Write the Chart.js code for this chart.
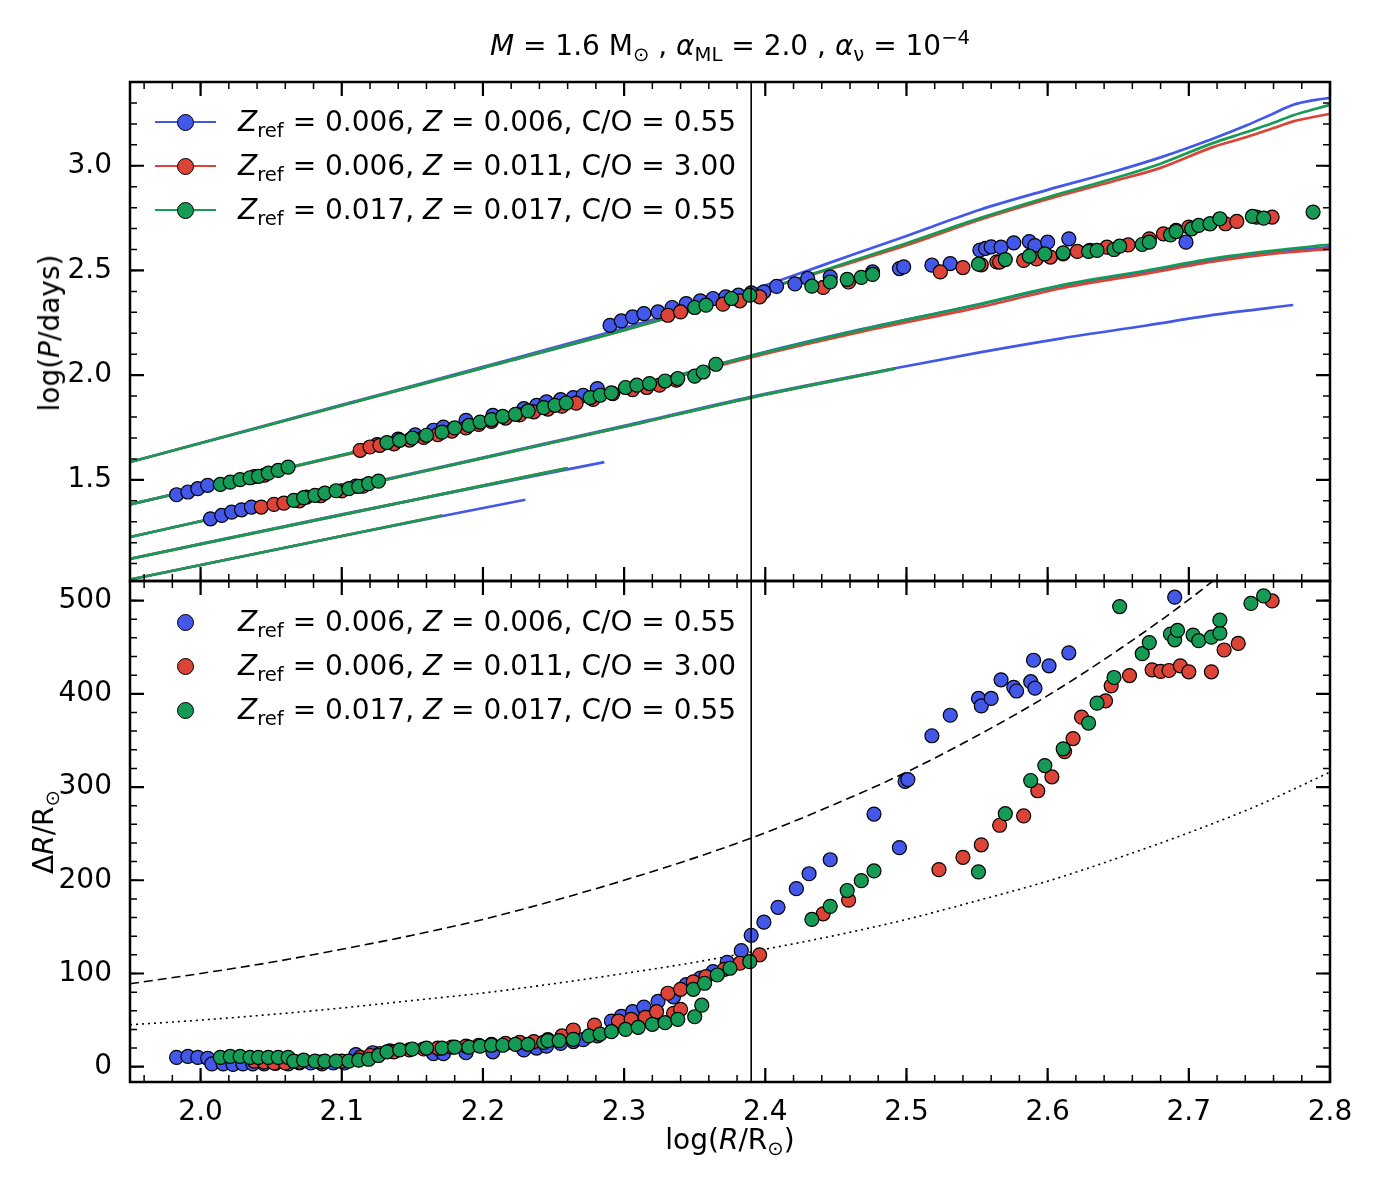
<!DOCTYPE html>
<html>
<head>
<meta charset="utf-8">
<script src="https://cdn.jsdelivr.net/npm/chart.js@4.4.0/dist/chart.umd.min.js"></script>
<style>
  body { margin: 0; background: #fff; }
  #wrap { position: relative; width: 1382px; height: 1187px; font-family: 'DejaVu Sans', sans-serif; color: #000; }
  canvas { position: absolute; left: 0; }
  .txt { position: absolute; font-size: 28px; line-height: 28px; white-space: nowrap; }
  .txt sub { font-size: 0.7em; vertical-align: -0.3em; line-height: 0; }
  .txt sup { font-size: 0.7em; vertical-align: 0.55em; line-height: 0; }
  .ln { position: absolute; height: 2.8px; width: 61px; }
  .mk { position: absolute; width: 17px; height: 17px; border-radius: 50%; border: 1.3px solid #000; box-sizing: border-box; }
  .rot { transform: translate(-50%, -50%) rotate(-90deg); }
</style>
</head>
<body>
<div id="wrap">
  <canvas id="top" width="1382" height="600" style="top:0"></canvas>
  <canvas id="bot" width="1382" height="627" style="top:560px"></canvas>
</div>
<script>
// ---- axis ranges and ticks
const X_MIN = 1.95, X_MAX = 2.8;
const TOP_MIN = 1.017, TOP_MAX = 3.40;
const BOT_MIN = -16.4, BOT_MAX = 521;
const xTicks = [2.0, 2.1, 2.2, 2.3, 2.4, 2.5, 2.6, 2.7, 2.8];
const topYTicks = [1.5, 2.0, 2.5, 3.0];
const botYTicks = [0, 100, 200, 300, 400, 500];
const V_LINE = 2.39;

const blue = '#4358e8', red = '#db4437', green = '#169b56';

// ---- top panel: model period lines log(P) vs log(R)
const l1X = [1.95, 2.1, 2.2, 2.3, 2.39, 2.45, 2.5, 2.552, 2.6, 2.646, 2.68, 2.717, 2.741, 2.76, 2.774, 2.79, 2.8];
const l1Blue = [1.585, 1.858, 2.040, 2.225, 2.406, 2.547, 2.665, 2.790, 2.885, 2.970, 3.040, 3.129, 3.193, 3.250, 3.291, 3.315, 3.324];
const l1Green = [1.585, 1.855, 2.035, 2.215, 2.390, 2.520, 2.630, 2.750, 2.850, 2.938, 3.010, 3.108, 3.161, 3.205, 3.241, 3.272, 3.291];
const l1Red = [1.585, 1.855, 2.035, 2.215, 2.390, 2.515, 2.620, 2.742, 2.840, 2.925, 2.990, 3.089, 3.137, 3.180, 3.212, 3.235, 3.248];

const l2X = [1.95, 2.1, 2.2, 2.3, 2.39, 2.47, 2.552, 2.61, 2.67, 2.72, 2.76, 2.8];
const l2Blue = [1.383, 1.618, 1.776, 1.932, 2.094, 2.222, 2.338, 2.426, 2.495, 2.553, 2.587, 2.612];
const l2Green = [1.383, 1.618, 1.775, 1.931, 2.092, 2.220, 2.340, 2.430, 2.500, 2.560, 2.595, 2.624];
const l2Red = [1.383, 1.615, 1.770, 1.925, 2.085, 2.210, 2.325, 2.415, 2.485, 2.545, 2.580, 2.603];

const l3BlueX = [1.95, 2.1, 2.2, 2.304, 2.39, 2.492, 2.552, 2.61, 2.67, 2.72, 2.774];
const l3Blue = [1.227, 1.455, 1.607, 1.764, 1.897, 2.033, 2.109, 2.176, 2.237, 2.290, 2.335];
const l3GreenX = [1.95, 2.1, 2.2, 2.304, 2.39, 2.492];
const l3Green = [1.227, 1.453, 1.604, 1.760, 1.893, 2.031];

const l4BlueX = [1.95, 2.1, 2.286];
const l4Blue = [1.123, 1.335, 1.585];
const l4GreenX = [1.95, 2.1, 2.26];
const l4Green = [1.123, 1.333, 1.556];

const l5BlueX = [1.95, 2.1, 2.23];
const l5Blue = [1.024, 1.232, 1.405];
const l5GreenX = [1.95, 2.171];
const l5Green = [1.024, 1.330];

// ---- top panel: period points
const blueTopX = [1.983, 1.991, 1.998, 2.005, 2.007, 2.015, 2.022, 2.029, 2.036, 2.075, 2.11,
  2.125, 2.14, 2.152, 2.165, 2.172, 2.188, 2.207, 2.229, 2.238, 2.245, 2.255, 2.264, 2.271, 2.281,
  2.290, 2.298, 2.306, 2.314, 2.324, 2.334, 2.344, 2.354, 2.363, 2.372, 2.381, 2.390, 2.399, 2.408,
  2.421, 2.430, 2.446, 2.476, 2.495, 2.498, 2.518, 2.531, 2.552, 2.556, 2.560, 2.567, 2.576, 2.587,
  2.591, 2.600, 2.615, 2.698];
const blueTopY = [1.429, 1.442, 1.458, 1.474, 1.314, 1.330, 1.346, 1.357, 1.370, 1.418, 1.470,
  1.668, 1.695, 1.715, 1.737, 1.752, 1.784, 1.808, 1.840, 1.856, 1.872, 1.883, 1.893, 1.904, 1.936,
  2.238, 2.259, 2.278, 2.294, 2.302, 2.323, 2.342, 2.355, 2.366, 2.374, 2.382, 2.393, 2.398, 2.424,
  2.436, 2.462, 2.469, 2.493, 2.509, 2.517, 2.525, 2.533, 2.597, 2.605, 2.613, 2.611, 2.632, 2.638,
  2.619, 2.635, 2.651, 2.635];

const redTopX = [2.038, 2.045, 2.043, 2.052, 2.059, 2.070, 2.085, 2.100, 2.115,
  2.113, 2.120, 2.127, 2.137, 2.148, 2.158, 2.168, 2.178, 2.188, 2.197, 2.206, 2.216, 2.226, 2.236,
  2.246, 2.256, 2.266, 2.278, 2.292, 2.306, 2.316, 2.325, 2.337,
  2.331, 2.340, 2.370, 2.382, 2.396, 2.441, 2.459, 2.524, 2.540, 2.553, 2.564, 2.566, 2.583, 2.592,
  2.602, 2.611, 2.621, 2.630, 2.642, 2.657, 2.672, 2.682, 2.691, 2.700, 2.715, 2.726, 2.734, 2.748, 2.759];
const redTopY = [1.515, 1.522, 1.370, 1.383, 1.389, 1.400, 1.424, 1.447, 1.470,
  1.641, 1.657, 1.665, 1.672, 1.690, 1.703, 1.716, 1.733, 1.748, 1.765, 1.779, 1.795, 1.810, 1.825,
  1.838, 1.852, 1.866, 1.884, 1.912, 1.931, 1.941, 1.952, 1.976,
  2.286, 2.302, 2.339, 2.355, 2.374, 2.419, 2.445, 2.493, 2.514, 2.527, 2.541, 2.540, 2.548, 2.555,
  2.564, 2.579, 2.591, 2.596, 2.611, 2.622, 2.651, 2.675, 2.691, 2.707, 2.723, 2.723, 2.734, 2.755, 2.755];

const greenTopX = [2.014, 2.021, 2.028, 2.035, 2.041, 2.048, 2.055, 2.062,
  2.066, 2.073, 2.081, 2.088, 2.096, 2.105, 2.112, 2.119, 2.126,
  2.132, 2.141, 2.150, 2.160, 2.171, 2.180, 2.190, 2.198, 2.206, 2.214, 2.223, 2.232, 2.243, 2.251,
  2.259, 2.276, 2.283, 2.291, 2.301, 2.309, 2.318, 2.329, 2.338, 2.350, 2.356, 2.365,
  2.350, 2.358, 2.376, 2.389, 2.433, 2.446, 2.458, 2.468, 2.476, 2.551, 2.570, 2.587, 2.598, 2.611,
  2.629, 2.635, 2.647, 2.651, 2.667, 2.672, 2.687, 2.691, 2.702, 2.707, 2.715, 2.722, 2.745, 2.753, 2.788];
const greenTopY = [1.478, 1.489, 1.501, 1.510, 1.517, 1.532, 1.545, 1.561,
  1.402, 1.415, 1.426, 1.437, 1.448, 1.458, 1.469, 1.482, 1.494,
  1.678, 1.689, 1.700, 1.713, 1.728, 1.748, 1.760, 1.776, 1.788, 1.803, 1.813, 1.829, 1.845, 1.856,
  1.867, 1.893, 1.904, 1.915, 1.941, 1.952, 1.960, 1.972, 1.984, 1.995, 2.015, 2.052,
  2.323, 2.334, 2.366, 2.382, 2.425, 2.445, 2.457, 2.467, 2.481, 2.530, 2.552, 2.568, 2.579, 2.584,
  2.591, 2.596, 2.600, 2.616, 2.624, 2.635, 2.670, 2.686, 2.699, 2.715, 2.723, 2.747, 2.758, 2.750, 2.779];

// ---- bottom panel: amplitude points
const blueBotX = [1.983, 1.991, 1.998, 2.005, 2.008, 2.016, 2.023, 2.030, 2.037, 2.045, 2.053, 2.062,
  2.070, 2.078, 2.086, 2.094, 2.102, 2.110, 2.122, 2.134, 2.165, 2.172, 2.188, 2.207, 2.229, 2.238,
  2.245, 2.255, 2.264, 2.271, 2.281, 2.291, 2.298, 2.306, 2.314, 2.324, 2.335, 2.344, 2.354, 2.363,
  2.373, 2.383, 2.390, 2.399, 2.409, 2.422, 2.431, 2.446, 2.477, 2.495, 2.499, 2.501, 2.518, 2.531,
  2.551, 2.553, 2.560, 2.567, 2.576, 2.578, 2.588, 2.591, 2.590, 2.601, 2.615, 2.690];
const blueBotY = [10, 11, 10, 9, 3, 3, 2.5, 3, 3, 3, 3.5, 3,
  4, 4, 3, 4, 4, 13, 15, 17, 14, 14, 15, 16, 18, 20,
  22, 25, 27, 29, 33, 49, 54, 59, 64, 70, 75, 88, 95, 102,
  112, 124.5, 141, 155, 171, 191, 207, 222, 271, 235, 306, 308, 355, 377,
  395, 387, 395, 415, 407, 403, 413, 406, 436, 430, 444, 503.6];

const redBotX = [2.038, 2.045, 2.052, 2.060, 2.070, 2.085, 2.100, 2.113, 2.120, 2.127, 2.137, 2.148,
  2.158, 2.168, 2.178, 2.188, 2.197, 2.206, 2.216, 2.226, 2.236, 2.246, 2.256, 2.264, 2.279, 2.296,
  2.305, 2.315, 2.323, 2.335, 2.340, 2.331, 2.340, 2.349, 2.358, 2.371, 2.382, 2.396, 2.441, 2.459,
  2.523, 2.540, 2.553, 2.566, 2.583, 2.593, 2.603, 2.612, 2.618, 2.624, 2.641, 2.645, 2.658, 2.674,
  2.680, 2.686, 2.694, 2.700, 2.716, 2.725, 2.735, 2.759];
const redBotY = [6, 5, 4, 4, 5, 5, 6, 10, 12, 14, 16, 18,
  19, 20, 21, 22, 23, 24, 25, 26, 27, 29, 33, 39.4, 44.7, 49,
  50.8, 53, 59, 57.3, 61.6, 78.8, 83, 91, 96.6, 104.5, 111, 120, 164, 178.6,
  211.4, 224.6, 238, 259, 269, 296, 311, 338, 352, 375, 392.5, 408.6, 419.6, 425.7,
  424, 425, 430, 423.6, 423.6, 447, 454, 499.6];

const greenBotX = [2.014, 2.021, 2.028, 2.035, 2.041, 2.048, 2.055, 2.062, 2.066, 2.073, 2.081, 2.088,
  2.096, 2.105, 2.112, 2.119, 2.126, 2.132, 2.141, 2.150, 2.160, 2.171, 2.180, 2.190, 2.198, 2.206,
  2.214, 2.223, 2.232, 2.243, 2.246, 2.254, 2.264, 2.275, 2.283, 2.291, 2.301, 2.310, 2.320, 2.329,
  2.338, 2.350, 2.355, 2.349, 2.357, 2.366, 2.375, 2.389, 2.433, 2.446, 2.458, 2.468, 2.477, 2.551,
  2.570, 2.588, 2.598, 2.611, 2.629, 2.635, 2.647, 2.651, 2.667, 2.672, 2.687, 2.690, 2.692, 2.703,
  2.707, 2.716, 2.722, 2.722, 2.744, 2.753];
const greenBotY = [10, 11, 11, 10, 10, 10, 10, 10, 6, 7, 6, 6,
  6, 6, 7, 8, 12, 16, 18, 19, 20, 20, 21, 21, 22, 23,
  23, 24, 24, 26, 28, 28, 29.4, 33, 35, 37.6, 40, 42.3, 45.5, 47.2,
  50.8, 53.6, 66, 83, 89.5, 98.4, 105.6, 112.7, 158, 172, 189, 199.6, 210, 209,
  271.4, 307, 323, 341, 368.6, 390, 417.5, 493.6, 443, 455, 464, 457.9, 468, 463,
  457, 460.7, 465, 479, 497, 505];

// ---- bottom panel: reference curves (dashed and dotted)
const refX = [1.95, 2.0, 2.05, 2.1, 2.15, 2.2, 2.25, 2.3, 2.35, 2.4, 2.45, 2.5, 2.55, 2.6, 2.65, 2.7, 2.75, 2.8];
const dashedY = [89, 100, 112, 126, 141, 158, 178, 200, 224, 251, 282, 316, 355, 398, 447, 501, 562, 631];
const dottedY = [45, 50, 56, 63, 71, 79, 89, 100, 112, 126, 141, 158, 178, 199, 224, 251, 281, 316];

const pts = (xs, ys) => xs.map((x, i) => ({x: x, y: ys[i]}));

function lineDs(xs, ys, color, order, extra) {
  return Object.assign({
    data: pts(xs, ys), showLine: true, pointRadius: 0, borderColor: color,
    borderWidth: 2.7, order: order, cubicInterpolationMode: 'monotone'
  }, extra || {});
}
function dotDs(xs, ys, color, order) {
  return {
    data: pts(xs, ys), showLine: false, pointRadius: 7, pointHoverRadius: 7,
    backgroundColor: color, borderColor: '#000', borderWidth: 1.2, order: order
  };
}
function vLine(lo, hi) {
  return {data: [{x: V_LINE, y: lo}, {x: V_LINE, y: hi}], showLine: true, pointRadius: 0,
    borderColor: '#000', borderWidth: 1.6, order: 0};
}

// inward ticks on all four sides plus the frame
const frameTicks = {
  id: 'frameTicks',
  afterDatasetsDraw(chart, args, o) {
    const {ctx, chartArea: a} = chart;
    const sx = chart.scales.x, sy = chart.scales.y;
    ctx.save();
    ctx.strokeStyle = '#000';
    ctx.lineWidth = 1.5;
    ctx.beginPath();
    for (let i = Math.ceil(sx.min / o.xMinor - 1e-6); i * o.xMinor <= sx.max + 1e-9; i++) {
      const p = sx.getPixelForValue(i * o.xMinor);
      if (p < a.left + 2 || p > a.right - 2) continue;
      ctx.moveTo(p, a.bottom); ctx.lineTo(p, a.bottom - 7);
      ctx.moveTo(p, a.top); ctx.lineTo(p, a.top + 7);
    }
    for (let i = Math.ceil(sy.min / o.yMinor - 1e-6); i * o.yMinor <= sy.max + 1e-9; i++) {
      const p = sy.getPixelForValue(i * o.yMinor);
      if (p < a.top + 2 || p > a.bottom - 2) continue;
      ctx.moveTo(a.left, p); ctx.lineTo(a.left + 7, p);
      ctx.moveTo(a.right, p); ctx.lineTo(a.right - 7, p);
    }
    ctx.stroke();
    ctx.lineWidth = 2.2;
    ctx.beginPath();
    o.xMajor.forEach(v => {
      const p = sx.getPixelForValue(v);
      ctx.moveTo(p, a.bottom); ctx.lineTo(p, a.bottom - 14);
      ctx.moveTo(p, a.top); ctx.lineTo(p, a.top + 14);
    });
    o.yMajor.forEach(v => {
      const p = sy.getPixelForValue(v);
      ctx.moveTo(a.left, p); ctx.lineTo(a.left + 14, p);
      ctx.moveTo(a.right, p); ctx.lineTo(a.right - 14, p);
    });
    ctx.stroke();
    ctx.lineWidth = 2.5;
    ctx.strokeRect(a.left, a.top, a.right - a.left, a.bottom - a.top);
    ctx.restore();
  }
};

const tickFont = {family: 'DejaVu Sans', size: 28};

function noPad(s) {
  s.paddingTop = 0; s.paddingBottom = 0; s.paddingLeft = 0; s.paddingRight = 0;
}

function baseOptions(yMin, yMax, yTicks, padTop, xHeight, showX, minorY) {
  return {
    responsive: false,
    animation: false,
    layout: {padding: {left: 0, right: 52, top: padTop, bottom: 0}},
    plugins: {
      legend: {display: false},
      tooltip: {enabled: false},
      frameTicks: {xMinor: 0.02, yMinor: minorY, xMajor: xTicks, yMajor: yTicks}
    },
    scales: {
      x: {
        type: 'linear', min: X_MIN, max: X_MAX,
        grid: {display: false, drawTicks: false}, border: {display: false},
        ticks: {display: showX, font: tickFont, color: '#000', padding: 14, maxRotation: 0,
          callback: v => v.toFixed(1)},
        afterBuildTicks: s => { s.ticks = xTicks.map(v => ({value: v})); },
        afterFit: s => { s.height = xHeight; noPad(s); }
      },
      y: {
        type: 'linear', min: yMin, max: yMax,
        grid: {display: false, drawTicks: false}, border: {display: false},
        ticks: {font: tickFont, color: '#000', padding: 18,
          callback: v => (yTicks === topYTicks ? v.toFixed(1) : String(v))},
        afterBuildTicks: s => { s.ticks = yTicks.map(v => ({value: v})); },
        afterFit: s => { s.width = 130; noPad(s); }
      }
    }
  };
}

new Chart(document.getElementById('top'), {
  type: 'scatter',
  data: {
    datasets: [
      vLine(-10, 10),
      dotDs(greenTopX, greenTopY, green, 1),
      dotDs(redTopX, redTopY, red, 2),
      dotDs(blueTopX, blueTopY, blue, 3),
      lineDs(l1X, l1Green, green, 4), lineDs(l2X, l2Green, green, 4),
      lineDs(l3GreenX, l3Green, green, 4), lineDs(l4GreenX, l4Green, green, 4),
      lineDs(l5GreenX, l5Green, green, 4),
      lineDs(l1X, l1Red, red, 5), lineDs(l2X, l2Red, red, 5),
      lineDs(l3GreenX, l3Green, red, 5), lineDs(l4GreenX, l4Green, red, 5),
      lineDs(l5GreenX, l5Green, red, 5),
      lineDs(l1X, l1Blue, blue, 6), lineDs(l2X, l2Blue, blue, 6),
      lineDs(l3BlueX, l3Blue, blue, 6), lineDs(l4BlueX, l4Blue, blue, 6),
      lineDs(l5BlueX, l5Blue, blue, 6)
    ]
  },
  options: baseOptions(TOP_MIN, TOP_MAX, topYTicks, 82, 19, false, 0.1),
  plugins: [frameTicks]
});

new Chart(document.getElementById('bot'), {
  type: 'scatter',
  data: {
    datasets: [
      vLine(-1000, 1000),
      dotDs(greenBotX, greenBotY, green, 1),
      dotDs(redBotX, redBotY, red, 2),
      dotDs(blueBotX, blueBotY, blue, 3),
      lineDs(refX, dashedY, '#000', 4, {borderWidth: 1.6, borderDash: [9, 5]}),
      lineDs(refX, dottedY, '#000', 4, {borderWidth: 1.6, borderDash: [2, 4]})
    ]
  },
  options: baseOptions(BOT_MIN, BOT_MAX, botYTicks, 21, 105, true, 20),
  plugins: [frameTicks]
});

// ---- rich text: title, axis titles, legends
const wrap = document.getElementById('wrap');
function addText(html, css, cls) {
  const d = document.createElement('div');
  d.className = 'txt' + (cls ? ' ' + cls : '');
  d.innerHTML = html;
  Object.assign(d.style, css);
  wrap.appendChild(d);
  return d;
}

const legendLabels = [
  '<i>Z</i><sub>ref</sub> = 0.006, <i>Z</i> = 0.006, C/O = 0.55',
  '<i>Z</i><sub>ref</sub> = 0.006, <i>Z</i> = 0.011, C/O = 3.00',
  '<i>Z</i><sub>ref</sub> = 0.017, <i>Z</i> = 0.017, C/O = 0.55'
];
const legendColors = [blue, red, green];
const topRows = [122, 166, 210];
const botRows = [622, 666, 710];

function addLegend(rows, withLine) {
  rows.forEach((cy, i) => {
    if (withLine) {
      const l = document.createElement('div');
      l.className = 'ln';
      Object.assign(l.style, {left: '155px', top: (cy - 1.4) + 'px', background: legendColors[i]});
      wrap.appendChild(l);
    }
    const m = document.createElement('div');
    m.className = 'mk';
    Object.assign(m.style, {left: '177px', top: (cy - 8.5) + 'px', background: legendColors[i]});
    wrap.appendChild(m);
    addText(legendLabels[i], {left: '238px', top: (cy - 14) + 'px'});
  });
}
addLegend(topRows, true);
addLegend(botRows, false);

addText('<i>M</i> = 1.6 M<sub>⊙</sub> , <i>α</i><sub>ML</sub> = 2.0 , <i>α</i><sub>ν</sub> = 10<sup>−4</sup>',
  {left: '730px', top: '32px', transform: 'translateX(-50%)'});
addText('log(<i>P</i>/days)', {left: '50px', top: '333px'}, 'rot');
addText('Δ<i>R</i>/R<sub>⊙</sub>', {left: '44px', top: '832px'}, 'rot');
addText('log(<i>R</i>/R<sub>⊙</sub>)', {left: '730px', top: '1126px', transform: 'translateX(-50%)'});
</script>
</body>
</html>
